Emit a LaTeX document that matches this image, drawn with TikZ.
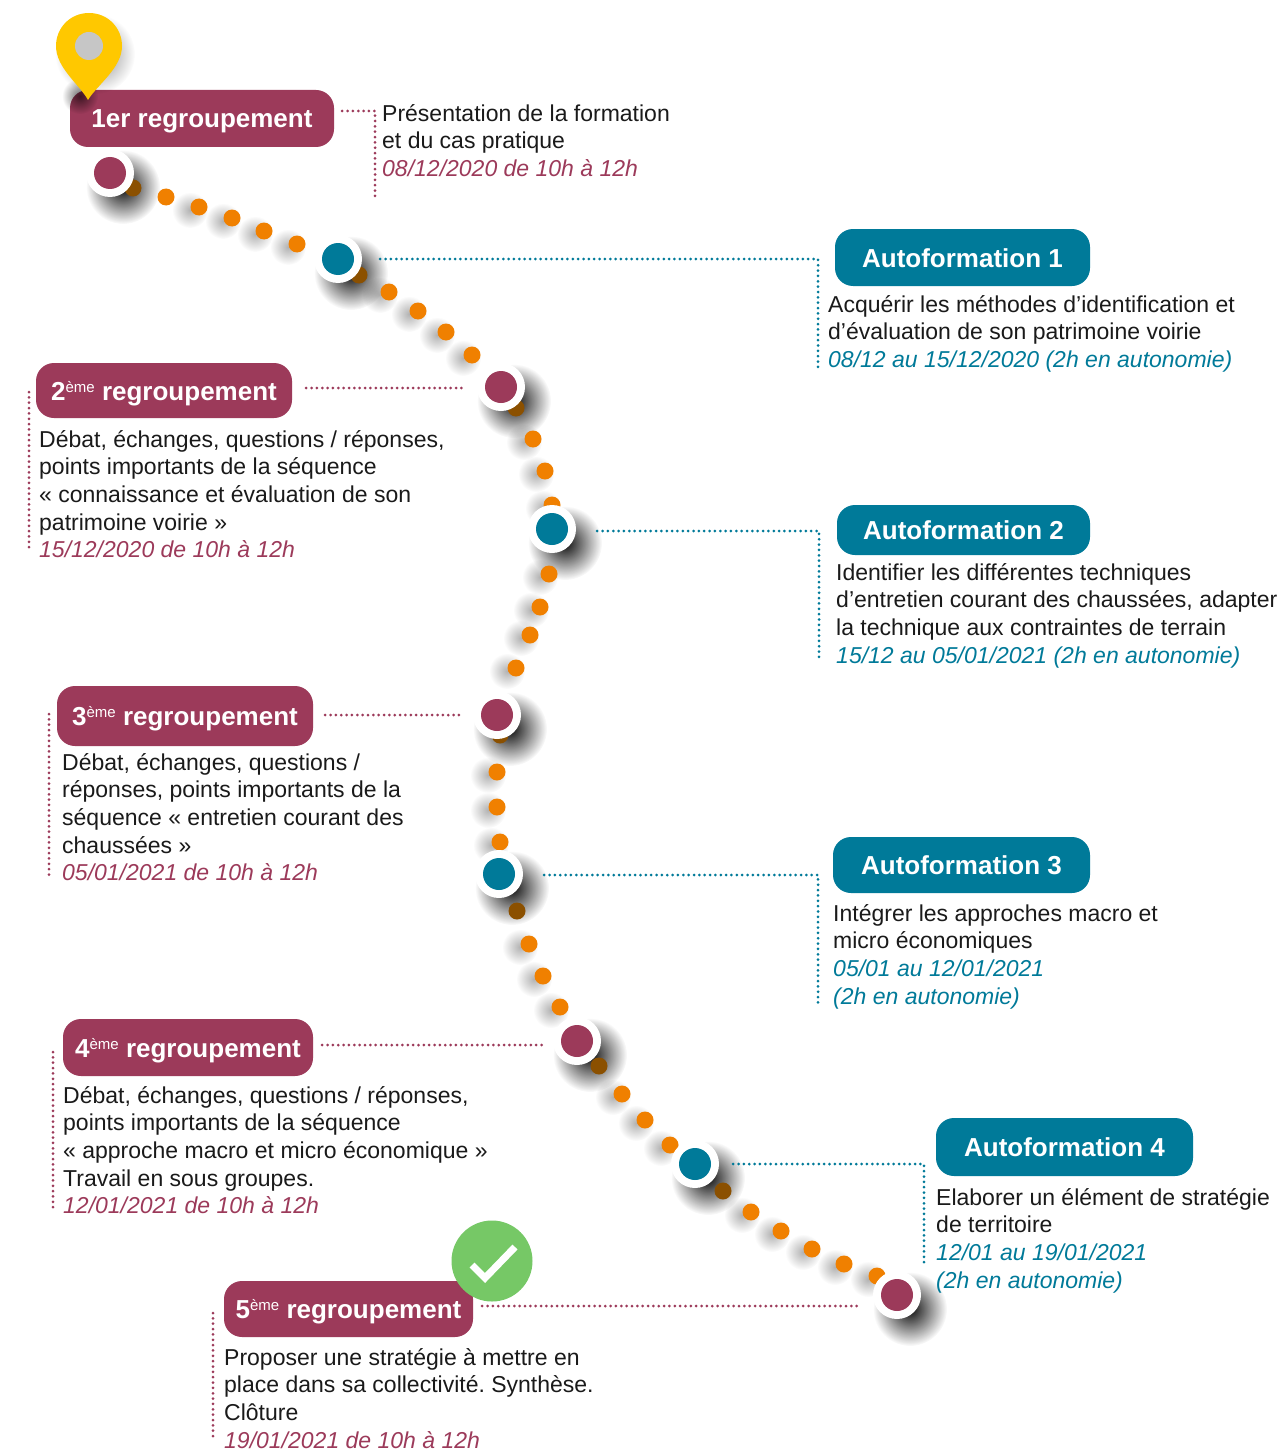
\documentclass[tikz,border=0pt]{standalone}
\usepackage{fontspec}
\setmainfont{Liberation Sans}
\frenchspacing
\usetikzlibrary{fadings}
\definecolor{regcol}{HTML}{9C3A5A}
\definecolor{autocol}{HTML}{007A99}
\definecolor{dotcol}{HTML}{F08000}
\definecolor{darkdotcol}{HTML}{8B5000}
\definecolor{pincol}{HTML}{FFC800}
\definecolor{okcol}{HTML}{76C866}
\definecolor{txtcol}{HTML}{1A1A1A}
\tikzfading[name=softshadow, inner color=transparent!0, outer color=transparent!100]
\newcommand{\sem}{\raisebox{8pt}{\fontsize{15}{15}\mdseries\selectfont ème}}
\newcommand{\dreg}[1]{{\itshape\color{regcol}#1}}
\newcommand{\daut}[1]{{\itshape\color{autocol}#1}}
\begin{document}
\begin{tikzpicture}[x=1pt, y=-1pt,
		box/.style={rectangle, rounded corners=18pt, inner sep=0pt, text=white, text height=19pt, text depth=0pt, font=\fontsize{26}{30}\bfseries\selectfont},
		regbox/.style={box, fill=regcol},
		autobox/.style={box, fill=autocol},
		txt/.style={anchor=north west, inner sep=0pt, align=left, text=txtcol, font=\fontsize{23}{27.6}\selectfont},
		smalldot/.style={circle, inner sep=0pt, minimum size=17pt},
		ring/.style={circle, fill=white, inner sep=0pt, minimum size=48pt},
		core/.style={circle, inner sep=0pt, minimum size=32pt},
		regdots/.style={regcol, line width=3pt, line cap=round, dash pattern=on 0pt off 5.35pt},
		autodots/.style={autocol, line width=3pt, line cap=round, dash pattern=on 0pt off 5.35pt},
		smallshadow/.style={black, opacity=.3, path fading=softshadow},
		bigshadow/.style={black, opacity=.95, path fading=softshadow}]
	\useasboundingbox (0,0) rectangle (1285,1450);
	\fill[white] (0,0) rectangle (1285,1450);
	% shadows
	\foreach \x/\y in {199/207, 232/218, 264/231, 297/244, 389/292, 418/311, 446/332, 472/355,
			533/439, 545/471, 552/505, 549/574, 540/607, 530/635, 516/668, 497/772, 497/807, 500/842,
			529/944, 543/976, 560/1007, 622/1094, 645/1120, 670/1145, 751/1212, 781/1231, 812/1249, 844/1264, 877/1276}
		\fill[smallshadow] (\x-9,\y+3) circle (18);
	\foreach \x/\y in {110/173, 338/259, 501/387, 552/529, 497/715, 499/874, 577/1041, 695/1164, 897/1295}
		\fill[bigshadow] (\x+13,\y+14) circle (37);
	% small dots
	\foreach \i/\x/\y in {1/166/197, 2/199/207, 3/232/218, 4/264/231, 5/297/244, 6/389/292, 7/418/311, 8/446/332, 9/472/355,
			10/533/439, 11/545/471, 12/552/505, 13/549/574, 14/540/607, 15/530/635, 16/516/668, 17/497/772, 18/497/807, 19/500/842,
			20/529/944, 21/543/976, 22/560/1007, 23/622/1094, 24/645/1120, 25/670/1145, 26/751/1212, 27/781/1231, 28/812/1249, 29/844/1264, 30/877/1276}
		\node[smalldot, fill=dotcol] (d\i) at (\x,\y) {};
	\foreach \i/\x/\y in {1/133/188, 2/359/275, 3/516/408, 4/500/735, 5/517/911, 6/599/1066, 7/723/1191}
		\node[smalldot, fill=darkdotcol] (dk\i) at (\x,\y) {};
	% points of the path
	\foreach \n/\x/\y/\c in {reg1/110/173/regcol, auto1/338/259/autocol, reg2/501/387/regcol, auto2/552/529/autocol, reg3/497/715/regcol,
			auto3/499/874/autocol, reg4/577/1041/regcol, auto4/695/1164/autocol, reg5/897/1295/regcol} {
		\node[ring] (pt\n) at (\x,\y) {};
		\node[core, fill=\c] (in\n) at (pt\n) {};
	}
	% titles
	\node[regbox, minimum width=264pt, minimum height=57pt] (reg1) at (202,118.5) {1er regroupement};
	\node[regbox, minimum width=256pt, minimum height=55pt] (reg2) at (164,390.5) {2\sem{} regroupement};
	\node[regbox, minimum width=256pt, minimum height=60pt] (reg3) at (185,716) {3\sem{} regroupement};
	\node[regbox, minimum width=250pt, minimum height=57pt] (reg4) at (188,1047.5) {4\sem{} regroupement};
	\node[regbox, minimum width=249pt, minimum height=56pt] (reg5) at (348.5,1309) {5\sem{} regroupement};
	\node[autobox, minimum width=255pt, minimum height=57pt] (auto1) at (962.5,257.5) {Autoformation 1};
	\node[autobox, minimum width=253pt, minimum height=50pt] (auto2) at (963.5,530) {Autoformation 2};
	\node[autobox, minimum width=257pt, minimum height=56pt] (auto3) at (961.5,865) {Autoformation 3};
	\node[autobox, minimum width=257pt, minimum height=58pt] (auto4) at (1064.5,1147) {Autoformation 4};
	% marker and check
	\fill[black, opacity=.5, path fading=softshadow] (95,54) circle (40);
	\fill[black, opacity=.6, path fading=softshadow] (80,96) circle (18);
	\fill[pincol] (88,100) .. controls (80,85) and (56,68) .. (56,46) .. controls (56,28) and (70,13) .. (89,13)
		.. controls (108,13) and (122,28) .. (122,46) .. controls (122,68) and (97,85) .. (88,100) -- cycle;
	\node[circle, inner sep=0pt, minimum size=28pt, fill=gray!45] (pinhole) at (89,46) {};
	\node[circle, fill=okcol, inner sep=0pt, minimum size=81pt] (okmark) at (492,1261) {};
	\draw[white, line width=7pt] (472,1265) -- (485,1278) -- (515,1247);
	% texts
	\node[txt] (txtreg1) at (382,101.7) {\strut Présentation de la formation\\et du cas pratique\\\dreg{08/12/2020 de 10h à 12h}};
	\node[txt] (txtauto1) at (828,292.7) {\strut Acquérir les méthodes d’identification et\\d’évaluation de son patrimoine voirie\\\daut{08/12 au 15/12/2020 (2h en autonomie)}};
	\node[txt] (txtreg2) at (39,427.7) {\strut Débat, échanges, questions / réponses,\\points importants de la séquence\\« connaissance et évaluation de son\\patrimoine voirie »\\\dreg{15/12/2020 de 10h à 12h}};
	\node[txt] (txtauto2) at (836,560.7) {\strut Identifier les différentes techniques\\d’entretien courant des chaussées, adapter\\la technique aux contraintes de terrain\\\daut{15/12 au 05/01/2021 (2h en autonomie)}};
	\node[txt] (txtreg3) at (62,750.7) {\strut Débat, échanges, questions /\\réponses, points importants de la\\séquence « entretien courant des\\chaussées »\\\dreg{05/01/2021 de 10h à 12h}};
	\node[txt] (txtauto3) at (833,901.7) {\strut Intégrer les approches macro et\\micro économiques\\\daut{05/01 au 12/01/2021}\\\daut{(2h en autonomie)}};
	\node[txt] (txtreg4) at (63,1083.7) {\strut Débat, échanges, questions / réponses,\\points importants de la séquence\\« approche macro et micro économique »\\Travail en sous groupes.\\\dreg{12/01/2021 de 10h à 12h}};
	\node[txt] (txtauto4) at (936,1185.7) {\strut Elaborer un élément de stratégie\\de territoire\\\daut{12/01 au 19/01/2021}\\\daut{(2h en autonomie)}};
	\node[txt] (txtreg5) at (224,1345.7) {\strut Proposer une stratégie à mettre en\\place dans sa collectivité. Synthèse.\\Clôture\\\dreg{19/01/2021 de 10h à 12h}};
	% connectors
	\coordinate (kreg1) at (375,111);
	\coordinate (ereg1) at (375,197);
	\draw[regdots, shorten <=8pt] (reg1.east |- kreg1) -- (kreg1) -- (ereg1);
	\foreach \n/\x/\y/\e/\s in {auto1/818/259/370/18pt, auto2/819/531/662/21pt, auto3/818/875/1005/21pt, auto4/924/1164/1263/14pt} {
		\coordinate (k\n) at (\x,\y);
		\coordinate (e\n) at (\x,\e);
		\draw[autodots, shorten <=\s] (pt\n.east |- k\n) -- (k\n) -- (e\n);
	}
	\foreach \n/\y/\a/\b in {reg2/388/14pt/11pt, reg3/715/12pt/13pt, reg4/1045/9pt/8pt, reg5/1306/9pt/12pt} {
		\coordinate (k\n) at (0,\y);
		\draw[regdots, shorten <=\a, shorten >=\b] (\n.east |- k\n) -- (pt\n.west |- k\n);
	}
	\foreach \n/\x/\a/\b in {reg2/29/392/552, reg3/49/714/876, reg4/53/1052/1210, reg5/213/1313/1437} {
		\coordinate (s\n) at (\x,\a);
		\coordinate (t\n) at (\x,\b);
		\draw[regdots] (s\n) -- (t\n);
	}
\end{tikzpicture}
\end{document}
